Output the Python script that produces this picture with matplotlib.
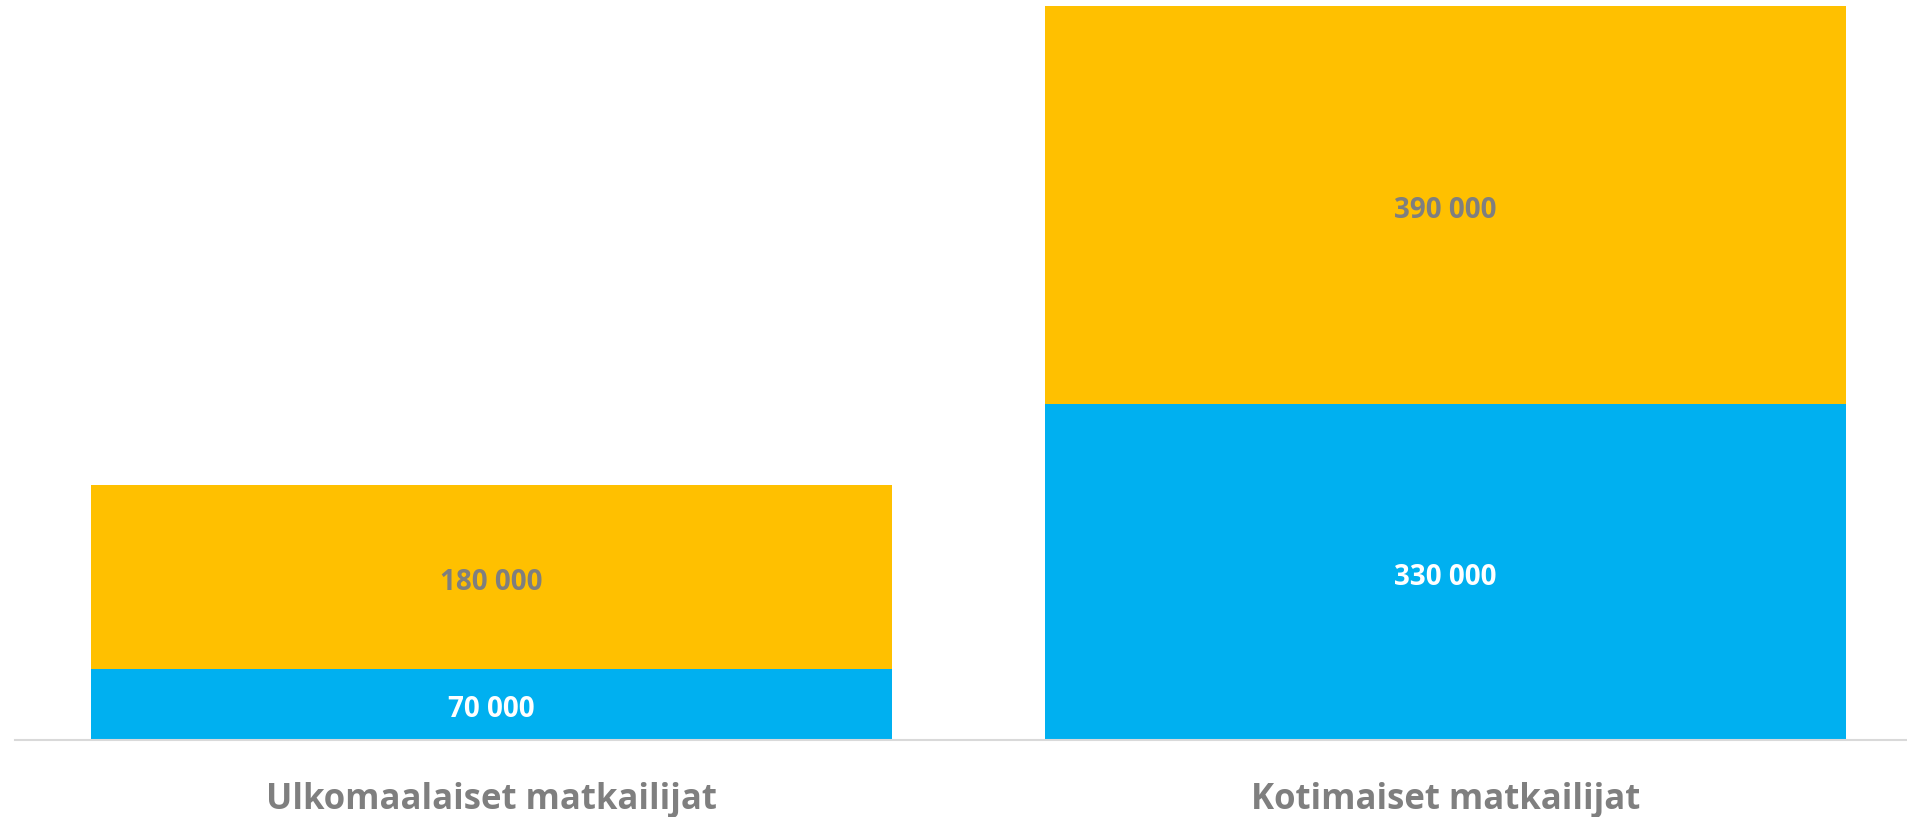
import matplotlib
matplotlib.use("Agg")
import matplotlib.pyplot as plt

# data
categories = ["Ulkomaalaiset matkailijat", "Kotimaiset matkailijat"]
blue_vals = [70000, 330000]
yellow_vals = [180000, 390000]

BLUE = "#00B0F0"
YELLOW = "#FFC000"
GRAY = "#7F7F7F"

plt.rcParams['font.family'] = ['Open Sans', 'DejaVu Sans']


def fmt(v):
    return "{:,}".format(v).replace(",", " ")


fig = plt.figure(figsize=(19.08, 8.17), dpi=100)
ax = fig.add_axes([14.5 / 1908, 77 / 817, 1.0, 734 / 817])

x = list(range(len(categories)))
b1 = ax.bar(x, blue_vals, width=0.84, color=BLUE)
b2 = ax.bar(x, yellow_vals, width=0.84, bottom=blue_vals, color=YELLOW)

ax.bar_label(b1, labels=[fmt(v) for v in blue_vals], label_type="center",
             padding=-4, color="white", fontsize=20, fontweight="bold")
ax.bar_label(b2, labels=[fmt(v) for v in yellow_vals], label_type="center",
             padding=-4, color=GRAY, fontsize=20, fontweight="bold")

ax.set_xlim(-0.5, 1.5)
ax.set_ylim(0, sum([blue_vals[1], yellow_vals[1]]))
ax.set_xticks(x)
ax.set_xticklabels(categories, fontsize=25, fontweight="bold", color=GRAY)
ax.tick_params(axis="x", length=0, pad=30)
ax.set_yticks([])
for s in ["top", "left", "right"]:
    ax.spines[s].set_visible(False)
ax.spines["bottom"].set_color("#D9D9D9")
ax.spines["bottom"].set_linewidth(1.5)

fig.savefig("out.png", dpi=100)
